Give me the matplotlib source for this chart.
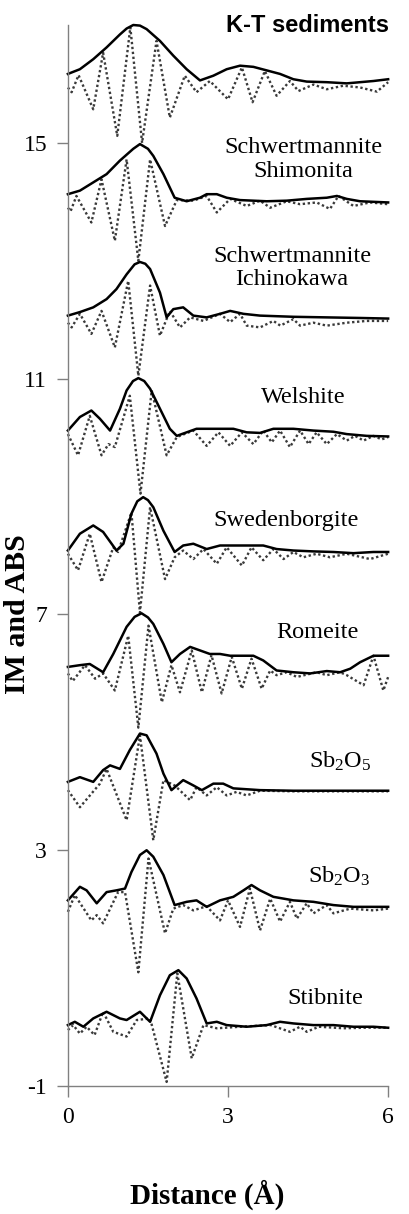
import matplotlib
matplotlib.use("Agg")
import matplotlib.pyplot as plt

########################################
# Data (x in Angstrom, y in stacked IM/ABS units)
# *_ABS = magnitude (solid), *_IM = imaginary part (dotted)
########################################
KT_ABS = [(0, 16.17), (0.225, 16.25), (0.475, 16.42), (0.725, 16.62), (0.975, 16.84),
          (1.1, 16.94), (1.225, 17.0), (1.35, 16.99), (1.475, 16.93), (1.725, 16.73),
          (1.975, 16.48), (2.225, 16.25), (2.475, 16.06), (2.725, 16.14), (2.975, 16.25),
          (3.225, 16.31), (3.475, 16.29), (3.725, 16.23), (3.975, 16.17), (4.225, 16.08),
          (4.475, 16.04), (4.85, 16.03), (5.225, 16.01), (5.475, 16.03), (5.725, 16.05),
          (6.0, 16.08)]
KT_IM = [(0, 15.94), (0.07, 15.86), (0.2, 16.15), (0.475, 15.57), (0.66, 16.53),
         (0.925, 15.12), (1.17, 16.96), (1.39, 15.0), (1.66, 16.73), (1.91, 15.43),
         (2.19, 16.14), (2.41, 15.86), (2.66, 16.05), (3.0, 15.74), (3.26, 16.28),
         (3.46, 15.69), (3.69, 16.22), (3.91, 15.8), (4.16, 16.05), (4.32, 15.88),
         (4.6, 15.99), (4.85, 15.91), (5.16, 15.97), (5.475, 15.94), (5.79, 15.87),
         (6.0, 16.03)]

SHIM_ABS = [(0, 14.13), (0.225, 14.19), (0.475, 14.33), (0.725, 14.47), (0.975, 14.70),
            (1.225, 14.90), (1.35, 14.98), (1.5, 14.9), (1.6, 14.78), (1.79, 14.47),
            (2.0, 14.07), (2.225, 14.01), (2.475, 14.07), (2.6, 14.13), (2.79, 14.13),
            (2.975, 14.07), (3.225, 14.03), (3.475, 14.02), (3.725, 14.01), (4.1, 14.02),
            (4.475, 14.05), (4.85, 14.07), (5.04, 14.10), (5.225, 14.05), (5.475, 14.01),
            (6.0, 13.99)]
SHIM_IM = [(0, 13.90), (0.05, 13.84), (0.16, 14.10), (0.44, 13.65), (0.63, 14.38),
           (0.88, 13.34), (1.10, 14.72), (1.32, 13.00), (1.54, 14.72), (1.82, 13.59),
           (2.04, 14.03), (2.35, 14.02), (2.6, 14.10), (2.79, 13.82), (3.04, 14.05),
           (3.35, 13.93), (3.6, 14.02), (3.79, 13.90), (4.1, 14.01), (4.35, 13.96),
           (4.66, 13.99), (4.91, 13.88), (5.07, 14.10), (5.35, 13.93), (5.66, 13.99),
           (6.0, 13.96)]

ICHI_ABS = [(0, 12.07), (0.225, 12.13), (0.475, 12.21), (0.725, 12.35), (0.91, 12.52),
            (1.1, 12.77), (1.25, 12.94), (1.35, 12.98), (1.45, 12.95), (1.54, 12.86),
            (1.725, 12.46), (1.85, 12.04), (1.975, 12.18), (2.16, 12.21), (2.35, 12.07),
            (2.6, 12.04), (2.85, 12.10), (3.04, 12.15), (3.29, 12.10), (3.6, 12.07),
            (4.225, 12.05), (4.85, 12.04), (5.475, 12.03), (6.0, 12.02)]
ICHI_IM = [(0, 11.95), (0.07, 11.87), (0.225, 12.10), (0.44, 11.76), (0.63, 12.15),
           (0.88, 11.53), (1.13, 12.66), (1.32, 11.05), (1.54, 12.58), (1.725, 11.73),
           (1.91, 12.15), (2.1, 11.87), (2.29, 12.04), (2.54, 11.98), (2.85, 12.10),
           (3.04, 11.96), (3.225, 12.10), (3.35, 11.9), (3.6, 11.87), (3.85, 11.98),
           (3.98, 11.9), (4.225, 12.01), (4.35, 11.9), (4.6, 11.95), (4.85, 11.9),
           (5.225, 11.95), (5.6, 11.98), (6.0, 11.98)]

WELS_ABS = [(0, 10.12), (0.225, 10.35), (0.44, 10.46), (0.6, 10.32), (0.79, 10.12),
            (0.975, 10.49), (1.1, 10.80), (1.22, 10.96), (1.32, 11.01), (1.43, 10.96),
            (1.54, 10.83), (1.725, 10.49), (1.91, 10.15), (2.04, 10.03), (2.225, 10.09),
            (2.41, 10.15), (2.725, 10.15), (3.1, 10.15), (3.35, 10.09), (3.6, 10.08),
            (3.85, 10.15), (4.225, 10.15), (4.6, 10.12), (4.975, 10.10), (5.225, 10.06),
            (5.6, 10.03), (6.0, 10.02)]
WELS_IM = [(0, 10.06), (0.19, 9.70), (0.41, 10.37), (0.63, 9.70), (0.76, 9.89),
           (0.88, 9.84), (1.16, 10.71), (1.36, 9.05), (1.57, 10.80), (1.85, 9.70),
           (2.04, 10.01), (2.35, 10.12), (2.6, 9.86), (2.82, 10.09), (3.04, 9.86),
           (3.26, 10.09), (3.475, 9.89), (3.66, 10.12), (3.82, 9.92), (3.975, 10.12),
           (4.16, 9.84), (4.35, 10.12), (4.51, 9.89), (4.66, 10.09), (4.85, 9.89),
           (5.04, 10.06), (5.225, 9.95), (5.38, 10.03), (5.54, 9.95), (5.725, 10.03),
           (5.88, 9.97), (6.0, 10.01)]

SWED_ABS = [(0, 8.085), (0.225, 8.37), (0.475, 8.51), (0.66, 8.40), (0.91, 8.085),
            (1.04, 8.20), (1.19, 8.71), (1.3, 8.92), (1.41, 8.99), (1.5, 8.94),
            (1.6, 8.82), (1.79, 8.42), (2.0, 8.06), (2.16, 8.17), (2.35, 8.20),
            (2.6, 8.11), (2.85, 8.17), (3.16, 8.17), (3.41, 8.17), (3.66, 8.17),
            (3.91, 8.11), (4.225, 8.085), (4.6, 8.07), (4.975, 8.06), (5.35, 8.04),
            (5.725, 8.06), (6.0, 8.06)]
SWED_IM = [(0, 8.03), (0.19, 7.75), (0.41, 8.37), (0.63, 7.55), (0.85, 8.14),
           (0.94, 8.06), (1.19, 8.73), (1.35, 7.03), (1.54, 8.82), (1.82, 7.6),
           (2.0, 7.97), (2.16, 8.085), (2.35, 7.94), (2.54, 8.11), (2.79, 7.86),
           (2.975, 8.14), (3.26, 7.83), (3.44, 8.14), (3.66, 7.92), (3.85, 8.11),
           (4.04, 7.94), (4.225, 8.06), (4.41, 7.97), (4.66, 8.03), (4.91, 7.97),
           (5.225, 8.03), (5.66, 7.94), (6.0, 8.03)]

ROME_ABS = [(0, 6.11), (0.225, 6.14), (0.41, 6.16), (0.66, 6.02), (0.85, 6.33),
            (1.1, 6.79), (1.25, 6.96), (1.38, 7.02), (1.5, 6.95), (1.6, 6.84),
            (1.79, 6.50), (1.94, 6.19), (2.1, 6.33), (2.29, 6.45), (2.475, 6.39),
            (2.66, 6.33), (2.85, 6.33), (3.04, 6.30), (3.225, 6.30), (3.475, 6.30),
            (3.66, 6.22), (3.91, 6.05), (4.225, 6.02), (4.54, 6.0), (4.85, 6.04),
            (5.1, 6.02), (5.29, 6.08), (5.475, 6.19), (5.725, 6.30), (6.0, 6.30)]
ROME_IM = [(0, 6.0), (0.09, 5.87), (0.32, 6.14), (0.51, 5.91), (0.66, 6.0),
           (0.88, 5.71), (1.13, 6.64), (1.32, 5.08), (1.51, 6.81), (1.76, 5.51),
           (1.94, 6.14), (2.1, 5.68), (2.32, 6.39), (2.51, 5.68), (2.69, 6.31),
           (2.88, 5.66), (3.07, 6.28), (3.26, 5.74), (3.44, 6.25), (3.63, 5.74),
           (3.79, 6.05), (3.91, 5.97), (4.1, 6.02), (4.29, 5.94), (4.66, 6.02),
           (4.85, 5.97), (5.1, 6.02), (5.225, 5.97), (5.54, 5.80), (5.725, 6.30),
           (5.91, 5.71), (6.0, 5.94)]

SB2O5_ABS = [(0, 4.16), (0.225, 4.24), (0.475, 4.16), (0.66, 4.36), (0.79, 4.44),
             (0.975, 4.38), (1.16, 4.70), (1.35, 4.98), (1.475, 4.95), (1.66, 4.64),
             (1.79, 4.30), (1.94, 4.02), (2.16, 4.19), (2.35, 4.10), (2.51, 4.02),
             (2.725, 4.13), (2.91, 4.13), (3.1, 4.05), (3.6, 4.02), (4.225, 4.01),
             (4.85, 4.01), (5.475, 4.01), (6.0, 4.01)]
SB2O5_IM = [(0, 4.02), (0.225, 3.73), (0.6, 4.13), (0.725, 4.38), (1.1, 3.51),
            (1.35, 4.95), (1.6, 3.17), (1.79, 4.19), (2.0, 4.1), (2.29, 3.85),
            (2.41, 4.07), (2.6, 3.93), (2.79, 4.07), (2.975, 3.93), (3.16, 3.99),
            (3.35, 3.93), (3.6, 4.01), (4.225, 4.0), (4.85, 4.0), (5.475, 4.0),
            (6.0, 4.0)]

SB2O3_ABS = [(0, 2.15), (0.225, 2.38), (0.35, 2.32), (0.54, 2.10), (0.725, 2.29),
             (0.91, 2.32), (1.07, 2.35), (1.19, 2.63), (1.35, 2.92), (1.475, 3.0),
             (1.6, 2.89), (1.79, 2.58), (2.0, 2.07), (2.225, 2.125), (2.41, 2.15),
             (2.6, 2.04), (2.85, 2.15), (3.1, 2.21), (3.29, 2.32), (3.44, 2.41),
             (3.6, 2.32), (3.85, 2.21), (4.225, 2.15), (4.6, 2.125), (4.975, 2.07),
             (5.35, 2.04), (5.725, 2.04), (6.0, 2.04)]
SB2O3_IM = [(0, 1.955), (0.13, 2.24), (0.44, 1.81), (0.54, 1.90), (0.66, 1.76),
            (0.94, 2.29), (1.07, 2.29), (1.32, 0.93), (1.51, 2.86), (1.82, 1.59),
            (1.975, 2.01), (2.16, 2.07), (2.35, 1.98), (2.6, 2.05), (2.85, 1.81),
            (3.0, 2.15), (3.225, 1.70), (3.41, 2.35), (3.6, 1.64), (3.79, 2.18),
            (3.975, 1.79), (4.16, 2.125), (4.29, 1.84), (4.475, 2.10), (4.6, 1.93),
            (4.85, 2.07), (4.975, 1.93), (5.29, 2.01), (5.725, 1.98), (6.0, 2.01)]

STIB_ABS = [(0, 0.034), (0.13, 0.09), (0.29, 0.006), (0.475, 0.147), (0.725, 0.26),
            (0.975, 0.147), (1.1, 0.12), (1.35, 0.26), (1.54, 0.09), (1.725, 0.54),
            (1.91, 0.88), (2.07, 0.966), (2.225, 0.825), (2.41, 0.486), (2.6, 0.062),
            (2.79, 0.09), (2.975, 0.034), (3.35, 0.006), (3.725, 0.034), (3.975, 0.09),
            (4.225, 0.062), (4.6, 0.034), (4.975, 0.034), (5.35, 0.006), (5.725, 0.006),
            (6.0, -0.011)]
STIB_IM = [(0, -0.05), (0.1, 0.034), (0.225, -0.11), (0.35, 0.006), (0.5, -0.135),
           (0.66, 0.26), (0.85, -0.08), (1.1, -0.16), (1.29, 0.12), (1.54, 0.147),
           (1.85, -0.93), (2.05, 0.91), (2.32, -0.53), (2.54, 0.034), (2.79, -0.02),
           (3.3, 0.01), (3.8, 0.034), (4.16, -0.08), (4.35, 0.006), (4.475, -0.08),
           (4.7, 0.006), (5.16, -0.02), (5.6, -0.01), (6.0, -0.01)]

SPECTRA = [(KT_ABS, KT_IM), (SHIM_ABS, SHIM_IM), (ICHI_ABS, ICHI_IM),
           (WELS_ABS, WELS_IM), (SWED_ABS, SWED_IM), (ROME_ABS, ROME_IM),
           (SB2O5_ABS, SB2O5_IM), (SB2O3_ABS, SB2O3_IM), (STIB_ABS, STIB_IM)]

LABELS = ["Schwertmannite\nShimonita", "Schwertmannite\nIchinokawa", "Welshite",
          "Swedenborgite", "Romeite",
          r"Sb$_\mathregular{2}$O$_\mathregular{5}$",
          r"Sb$_\mathregular{2}$O$_\mathregular{3}$", "Stibnite"]

Y_TICKS = [-1, 3, 7, 11, 15]
X_TICKS = [0, 3, 6]

########################################
# Figure
########################################
plt.rcParams["font.family"] = "Liberation Serif"
plt.rcParams["mathtext.fontset"] = "custom"
plt.rcParams["mathtext.rm"] = "Liberation Serif"
plt.rcParams["mathtext.it"] = "Liberation Serif:italic"
plt.rcParams["axes.unicode_minus"] = False

fig = plt.figure(figsize=(4.09, 12.14), dpi=100)
ax = fig.add_axes([0.166, 0.1054, 0.783, 0.874])

for abs_pts, im_pts in SPECTRA:
    xi, yi = zip(*im_pts)
    ax.plot(xi, yi, color="#3a3a3a", lw=1.7, linestyle=(0, (1, 1.1)), clip_on=False)
    xa, ya = zip(*abs_pts)
    ax.plot(xa, ya, color="black", lw=1.8, clip_on=False)

# series labels (x, y in data units)
label_pos = [(4.42, 14.72), (4.2, 12.88), (4.41, 10.68), (4.08, 8.59), (4.68, 6.69),
             (5.1, 4.5), (5.08, 2.55), (4.82, 0.49)]
for text, (lx, ly) in zip(LABELS, label_pos):
    ax.text(lx, ly, text, ha="center", va="center", fontsize=17.5, linespacing=1.15)

ax.set_xlim(0, 6)
ax.set_ylim(-1, 17)
ax.set_xticks(X_TICKS)
ax.set_yticks(Y_TICKS)
ax.tick_params(axis="both", direction="out", length=8, width=1, color="#808080",
               labelsize=17, pad=7)
for side in ["top", "right"]:
    ax.spines[side].set_visible(False)
for side in ["left", "bottom"]:
    ax.spines[side].set_color("#808080")
    ax.spines[side].set_linewidth(1)

fig.text(0.507, 1 - 1195 / 1214, "Distance (Å)", ha="center", va="center",
         fontsize=21, fontweight="bold")
fig.text(18 / 409, 1 - 614 / 1214, "IM and ABS", ha="center", va="center",
         rotation=90, fontsize=21.5, fontweight="bold")
fig.text(0.753, 1 - 25 / 1214, "K-T sediments", ha="center", va="center",
         fontsize=17, fontweight="bold", family="Liberation Sans")

fig.savefig("out.png", dpi=100)
